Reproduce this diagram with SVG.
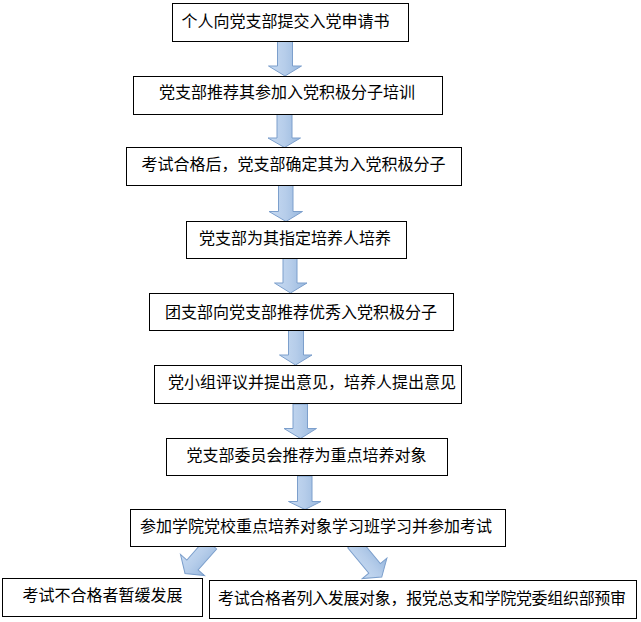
<svg xmlns="http://www.w3.org/2000/svg" width="641" height="622" viewBox="0 0 641 622">
<style>
.box{fill:#fff;stroke:#000;stroke-width:1}
.t{font-family:"Noto Sans CJK SC","Noto Sans CJK TC",sans-serif;font-size:16px;fill:#000;dominant-baseline:central}
.arr{fill:url(#g);stroke:#7c9fcc;stroke-width:1;stroke-linejoin:miter}
</style>
<defs>
<linearGradient id="g" x1="0" y1="0" x2="1" y2="0">
<stop offset="0" stop-color="#c8dbf2"/>
<stop offset="0.5" stop-color="#b6cdea"/>
<stop offset="1" stop-color="#98b8de"/>
</linearGradient>
</defs>
<rect width="641" height="622" fill="#fff"/>
<g id="connectors">
<path class="arr" d="M277.5,41.5H292.5V66H301.5L285,76L268.5,66H277.5Z"/>
<path class="arr" d="M277,114.5H292V138H300.5L284.5,147.5L268,138H277Z"/>
<path class="arr" d="M278.5,185.5H293V211.5H302.5L286,221.5L269,211.5H278.5Z"/>
<path class="arr" d="M283,258.5H297V283H307L290.5,293L274.5,283H283Z"/>
<path class="arr" d="M288.5,330.5H303.5V355H312L295.5,365L279.5,355H288.5Z"/>
<path class="arr" d="M293,404H307.5V428.5H316.5L300.5,438.5L284,428.5H293Z"/>
<path class="arr" d="M297.5,476H312V501.5H321L305,509.5L288.5,501.5H297.5Z"/>
<path class="arr" transform="translate(211,544) rotate(41.4)" d="M-7.5,0H7.5V28H16L0,39.3L-16,28H-7.5Z"/>
<path class="arr" transform="translate(353.5,543) rotate(-39.7)" d="M-7.5,0H7.5V33H16L0,44.2L-16,33H-7.5Z"/>
</g>
<g id="n1"><rect class="box" x="172.5" y="3.5" width="236" height="38"/><text class="t" x="181.5" y="19.5">个人向党支部提交入党申请书</text></g>
<g id="n2"><rect class="box" x="133.5" y="76.5" width="309" height="38"/><text class="t" x="159" y="91">党支部推荐其参加入党积极分子培训</text></g>
<g id="n3"><rect class="box" x="126.5" y="147.5" width="335" height="38"/><text class="t" x="141.5" y="163.3">考试合格后，党支部确定其为入党积极分子</text></g>
<g id="n4"><rect class="box" x="186.5" y="221.5" width="220" height="37"/><text class="t" x="199" y="236.7">党支部为其指定培养人培养</text></g>
<g id="n5"><rect class="box" x="149.5" y="293.5" width="304" height="37"/><text class="t" x="165" y="310.5">团支部向党支部推荐优秀入党积极分子</text></g>
<g id="n6"><rect class="box" x="154.5" y="365.5" width="307" height="38"/><text class="t" x="168" y="381.3">党小组评议并提出意见，培养人提出意见</text></g>
<g id="n7"><rect class="box" x="166.5" y="438.5" width="281" height="37"/><text class="t" x="186.5" y="453.7">党支部委员会推荐为重点培养对象</text></g>
<g id="n8"><rect class="box" x="130.5" y="509.5" width="375" height="37"/><text class="t" x="140" y="525">参加学院党校重点培养对象学习班学习并参加考试</text></g>
<g id="n9"><rect class="box" x="2.5" y="578.5" width="200" height="38"/><text class="t" x="22.5" y="594.3">考试不合格者暂缓发展</text></g>
<g id="n10"><rect class="box" x="209.5" y="580.5" width="427" height="38"/><text class="t" x="218" y="596.7" textLength="408" lengthAdjust="spacing">考试合格者列入发展对象，报党总支和学院党委组织部预审</text></g>
</svg>
